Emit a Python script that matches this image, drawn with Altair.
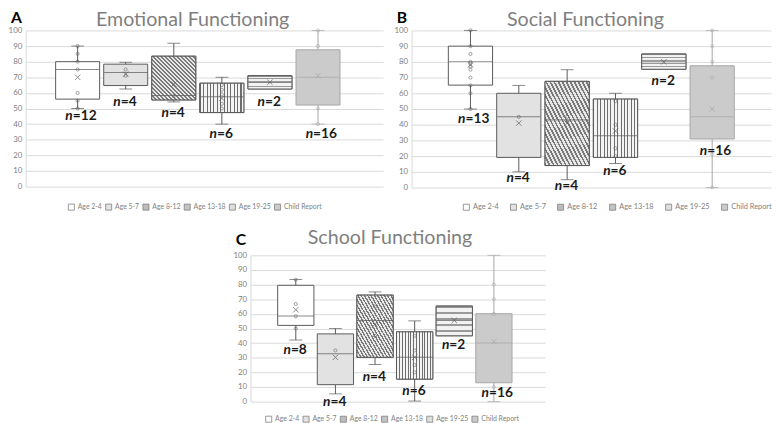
import altair as alt
import pandas as pd

cats = ["Age 2-4", "Age 5-7", "Age 8-12", "Age 13-18", "Age 19-25", "Child Report"]
fills = ["#ffffff", "#e2e2e2", "#bcbcbc", "#c4c4c4", "#dedede", "#cbcbcb"]

# Emotional Functioning
emo_q1 = [56, 64.7, 55.5, 47.4, 62.5, 52.2]
emo_q3 = [80, 78.4, 83.5, 66.2, 71, 87.6]
emo_med = [75, 73, 58.4, 57.5, 66.6, 70]
emo_lo = [50, 62.5, 54.2, 40, None, 40]
emo_hi = [90, 79.6, 91.8, 70, None, 100]
emo_mean = [70, 72, 65.6, 56.5, 66.8, 71]
emo_n = [12, 4, 4, 6, 2, 16]
emo_lab = [45, 54, 47, 33.6, 54, 33.6]
emo_pts = [[90, 85, 80, 75, 60, 55, 50], [75, 71], [58], [65, 62, 59, 53, 50], [], [100, 90, 50, 40]]

# Social Functioning
soc_q1 = [65.2, 19.2, 14, 19.2, 75.3, 30.9]
soc_q3 = [90, 60, 67.6, 56.3, 85, 77.5]
soc_med = [80, 45, 43, 33, 80, 45]
soc_lo = [50, 10, 5, 15.3, None, 0]
soc_hi = [100, 65, 75, 60, None, 100]
soc_mean = [78, 41, 41, 36, 80, 50]
soc_n = [13, 4, 4, 6, 2, 16]
soc_lab = [43.5, 5.8, 1.2, 10.5, 68, 23.3]
soc_pts = [[100, 90, 85, 80, 79, 77, 75, 70, 65, 60, 50], [45], [45, 42], [55, 40, 25, 20], [], [100, 90, 80, 70, 21, 0]]

# School Functioning
sch_q1 = [52.1, 11.6, 30.3, 15.4, 45, 12.9]
sch_q3 = [79.5, 46.3, 72.8, 47.7, 65.3, 60.1]
sch_med = [58.6, 32.7, 55.5, 30.3, 55.5, 40]
sch_lo = [42.1, 5.3, 25.4, 0.4, None, 0]
sch_hi = [83.5, 50, 75, 55.2, None, 100]
sch_mean = [62.8, 30.3, 52.8, 30.3, 55.5, 41]
sch_n = [8, 4, 4, 6, 2, 16]
sch_lab = [35, 0, 16.5, 7.3, 38.8, 5.8]
sch_pts = [[83.3, 66.7, 58.3, 50], [35], [65, 45], [45, 35, 25, 20], [], [80, 70, 60, 10]]

FONT = "Lato"
DARK = "#595959"
LIGHT = "#a6a6a6"
IS_CHILD = "datum.cat == 'Child Report'"


def stripes(n, dark, light, frac, x1, y1, x2, y2):
    stops = []
    for i in range(n):
        a = i / n
        b = (i + frac) / n
        c = (i + 1) / n
        stops += [alt.GradientStop(offset=round(a, 4), color=dark),
                  alt.GradientStop(offset=round(b, 4), color=dark),
                  alt.GradientStop(offset=round(b, 4), color=light),
                  alt.GradientStop(offset=round(c, 4), color=light)]
    return alt.LinearGradient(gradient="linear", stops=stops, x1=x1, y1=y1, x2=x2, y2=y2)


VERT = stripes(13, "#6e6e6e", "#f4f4f4", 0.32, 0, 0, 1, 0)
DIAG = stripes(22, "#7a7a7a", "#e8e8e8", 0.45, 0, 1, 1, 0)
HORIZ = stripes(5, "#9a9a9a", "#f2f2f2", 0.3, 0, 0, 0, 1)


def panel(title, letter, q1, q3, med, lo, hi, mean, n, lab, pts, w, h, box_w, band_align,
          title_x, title_y, letter_y, leg_x, leg_y, leg_font, leg_pad):
    df = pd.DataFrame({"cat": cats, "q1": q1, "q3": q3, "med": med, "lo": lo,
                       "hi": hi, "mean": mean, "nt": ["=" + str(v) for v in n],
                       "lab": lab})
    pdf = pd.DataFrame([{"cat": c, "v": v} for c, vs in zip(cats, pts) for v in vs])
    xs = alt.X("cat:N", sort=cats,
               scale=alt.Scale(domain=cats, paddingInner=0.085, paddingOuter=0.76,
                               align=band_align),
               axis=None)
    ysc = alt.Scale(domain=[0, 100], nice=False, zero=True)
    stroke_c = alt.condition(IS_CHILD, alt.value(LIGHT), alt.value(DARK))
    base = alt.Chart(df)

    whisk = base.mark_rule(strokeWidth=1).encode(
        x=xs, y=alt.Y("lo:Q", scale=ysc, title=None), y2="hi:Q", stroke=stroke_c)
    cap_lo = base.mark_tick(size=13, thickness=1).encode(
        x=xs, y=alt.Y("lo:Q", title=None), color=stroke_c)
    cap_hi = base.mark_tick(size=13, thickness=1).encode(
        x=xs, y=alt.Y("hi:Q", title=None), color=stroke_c)
    box = base.mark_bar(strokeWidth=1).encode(
        x=xs, y=alt.Y("q1:Q", title=None), y2="q3:Q",
        fill=alt.Fill("cat:N", sort=cats, scale=alt.Scale(domain=cats, range=fills),
                      legend=alt.Legend(orient="none", legendX=leg_x, legendY=leg_y,
                                        direction="horizontal", title=None,
                                        symbolType="square", symbolSize=38,
                                        symbolStrokeColor="#7f7f7f", symbolStrokeWidth=0.8,
                                        labelFontSize=leg_font, labelColor="#7f7f7f",
                                        labelFont=FONT, columnPadding=leg_pad,
                                        labelOffset=3)),
        stroke=stroke_c)
    pat_layers = []
    for cat_name, grad in [("Age 8-12", DIAG), ("Age 13-18", VERT), ("Age 19-25", HORIZ)]:
        pat_layers.append(
            base.transform_filter(alt.datum.cat == cat_name).mark_bar(
                fill=grad, stroke=DARK, strokeWidth=1).encode(
                x=xs, y=alt.Y("q1:Q", title=None), y2="q3:Q"))
    median = base.mark_tick(size=box_w, thickness=1).encode(
        x=xs, y=alt.Y("med:Q", title=None), color=stroke_c)
    points = alt.Chart(pdf).mark_point(shape="circle", size=10, filled=False,
                                       strokeWidth=0.8).encode(
        x=xs, y=alt.Y("v:Q", title=None), stroke=stroke_c)
    means = base.mark_point(shape="M-1,-1L1,1M-1,1L1,-1", size=30, filled=False,
                            strokeWidth=1).encode(
        x=xs, y=alt.Y("mean:Q", title=None), stroke=stroke_c)
    n_it = base.mark_text(font=FONT, fontSize=14, fontWeight="bold", fontStyle="italic",
                          align="right", baseline="middle", dx=-5, color="#1a1a1a").encode(
        x=xs, y=alt.Y("lab:Q", title=None), text=alt.value("n"))
    n_num = base.mark_text(font=FONT, fontSize=14, fontWeight="bold",
                           align="left", baseline="middle", dx=-5, color="#1a1a1a").encode(
        x=xs, y=alt.Y("lab:Q", title=None), text="nt:N")
    hdr = alt.Data(values=[{"t": letter, "ti": title}])
    let = alt.Chart(hdr).mark_text(
        font=FONT, fontSize=16, fontWeight="bold", align="left", baseline="alphabetic",
        color="#000000").encode(x=alt.value(-15), y=alt.value(letter_y), text="t:N")
    ttl = alt.Chart(hdr).mark_text(
        font=FONT, fontSize=20, align="center", baseline="alphabetic",
        color="#7f7f7f").encode(x=alt.value(title_x), y=alt.value(title_y), text="ti:N")

    return alt.layer(whisk, cap_lo, cap_hi, box, *pat_layers, median, points, means,
                     n_it, n_num, let, ttl).properties(width=w, height=h)


A = panel("Emotional Functioning", "A", emo_q1, emo_q3, emo_med, emo_lo, emo_hi, emo_mean,
          emo_n, emo_lab, emo_pts, 364, 159, 44, 0.41, 170, -5, -8, 43, 176, 7, 1)
B = panel("Social Functioning", "B", soc_q1, soc_q3, soc_med, soc_lo, soc_hi, soc_mean,
          soc_n, soc_lab, soc_pts, 366, 160, 44, 0.5, 177, -5, -8, 52, 176, 7.5, 10)
C = panel("School Functioning", "C", sch_q1, sch_q3, sch_med, sch_lo, sch_hi, sch_mean,
          sch_n, sch_lab, sch_pts, 300, 149, 37, 0.45, 142, -12, -10, 15, 163, 7, 1)

spacer = alt.Chart(alt.Data(values=[{"s": 0}])).mark_rect(opacity=0).encode(
    x=alt.value(0), x2=alt.value(211), y=alt.value(0), y2=alt.value(1)
).properties(width=211, height=1)

row1 = alt.hconcat(A, B, spacing=11).resolve_scale(fill="independent")
row2 = alt.hconcat(spacer, C, spacing=0).resolve_scale(fill="independent")
chart = alt.vconcat(row1, row2, spacing=16).properties(
    padding={"top": -2, "left": 0, "right": 0, "bottom": 0}).configure_view(
    stroke=None).configure_axisY(
    grid=True, gridColor="#d9d9d9", domain=True, domainColor="#d9d9d9", ticks=False,
    labelColor="#808080", labelFontSize=8, labelFont=FONT, labelPadding=4, tickCount=10
).resolve_scale(fill="independent")

chart.save("out.html", embed_options={"renderer": "svg", "actions": False})
